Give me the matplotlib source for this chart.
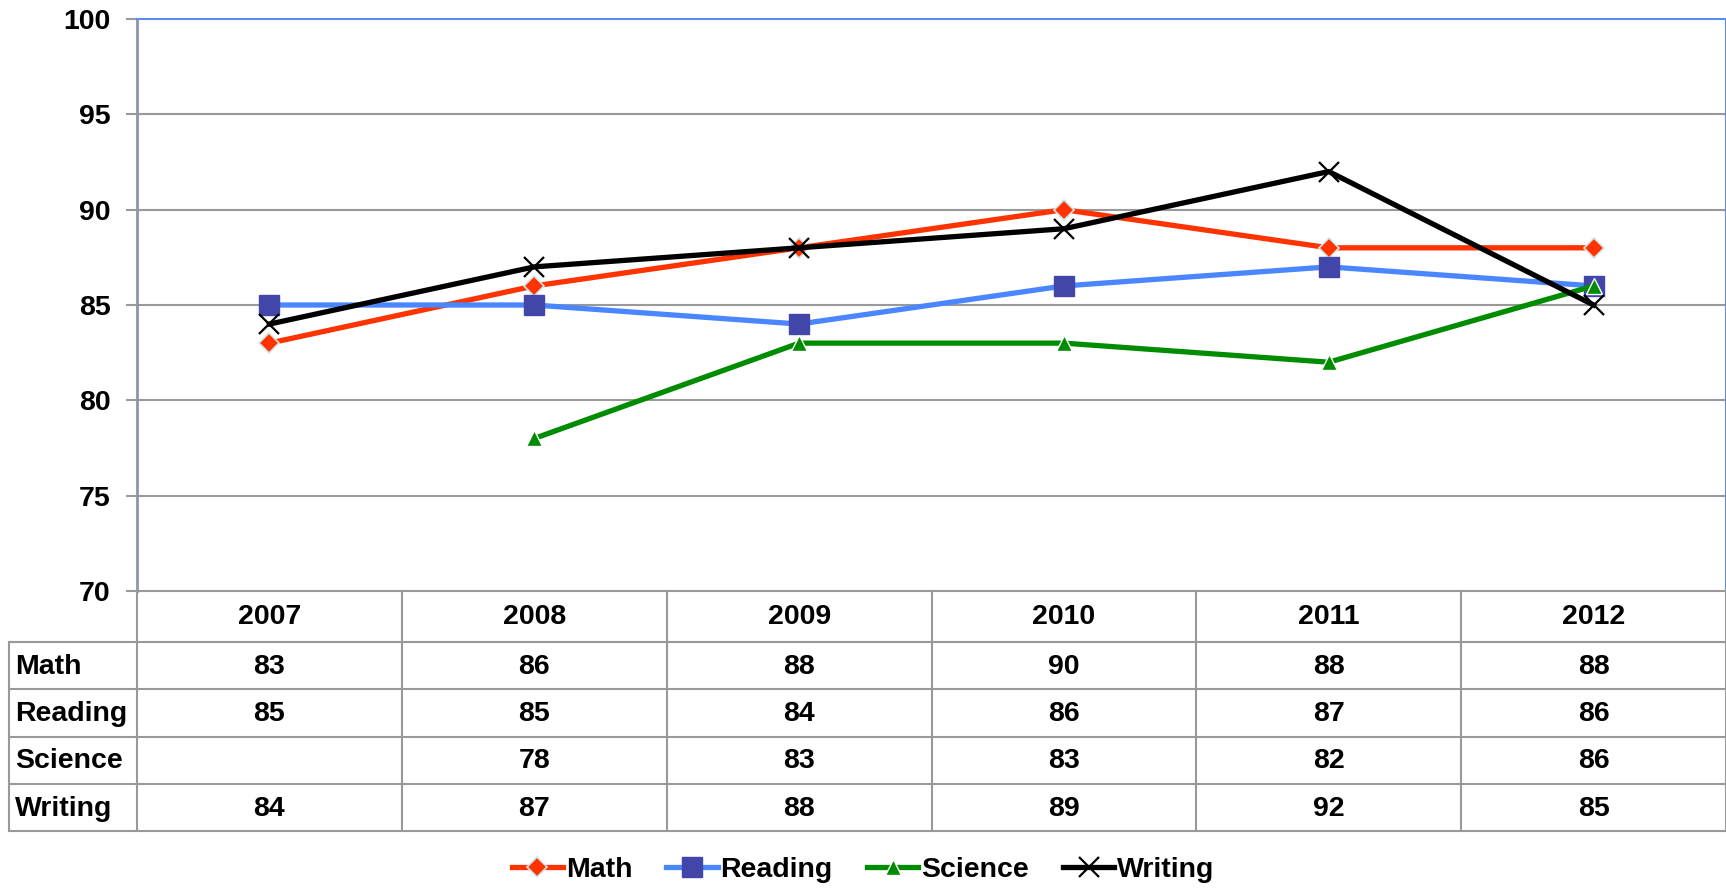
import numpy as np
import matplotlib.pyplot as plt
from matplotlib.transforms import blended_transform_factory

plt.rcParams['font.family'] = ['Liberation Sans', 'DejaVu Sans']
plt.rcParams['font.weight'] = 'bold'

# datos
years = ['2007', '2008', '2009', '2010', '2011', '2012']
math = [83, 86, 88, 90, 88, 88]
reading = [85, 85, 84, 86, 87, 86]
science = [np.nan, 78, 83, 83, 82, 86]
writing = [84, 87, 88, 89, 92, 85]
series_names = ['Math', 'Reading', 'Science', 'Writing']
y_ticks = [70, 75, 80, 85, 90, 95, 100]

W, H = 1726, 889
fig = plt.figure(figsize=(W / 100, H / 100), dpi=100)

# área del gráfico en píxeles
left, right, top, bottom = 137, 1726, 19, 591
ax = fig.add_axes([left / W, 1 - bottom / H, (right - left) / W, (bottom - top) / H])

x = np.arange(len(years))
ax.plot(x, math, color='#ff3300', lw=3.8, marker='D', ms=10,
        mfc='#ff3300', mec='#cce8ee', mew=1.2, label='Math', zorder=3)
ax.plot(x, reading, color='#4a86ff', lw=3.8, marker='s', ms=14,
        mfc='#4146a8', mec='#4146a8', label='Reading', zorder=3)
ax.plot(x, science, color='#008c00', lw=3.8, marker='^', ms=12,
        mfc='#008c00', mec='white', mew=1.0, label='Science', zorder=3)
ax.plot(x, writing, color='black', lw=3.8, marker='x', ms=15,
        mew=1.6, label='Writing', zorder=4)

ax.set_xlim(-0.5, len(years) - 0.5)
ax.set_ylim(70, 100)
ax.set_yticks(y_ticks)
ax.set_xticks([])
ax.tick_params(axis='y', length=8, width=1.5, color='#999999', pad=11, labelsize=20.5)
for t in ax.get_yticklabels():
    t.set_fontweight('bold')

for v in y_ticks[1:-1]:
    ax.axhline(v, color='#999999', lw=1.5, zorder=1)

for s in ['top', 'right']:
    ax.spines[s].set_color('#5b8def')
    ax.spines[s].set_linewidth(1.5)
ax.spines['left'].set_color('#8c96aa')
ax.spines['left'].set_linewidth(2)
ax.spines['bottom'].set_visible(False)

# tabla de datos debajo del gráfico
tr = blended_transform_factory(ax.transData, fig.transFigure)
col_w = (right - left) / len(years)
label_left = -0.5 + (9 - left) / col_w
row_edges = [591, 642, 689, 737, 784, 831]
fy = lambda p: 1 - p / H
grid_kw = dict(color='#999999', lw=1.5, transform=tr, clip_on=False)

# líneas horizontales
fig.add_artist(plt.Line2D([-0.5, len(years) - 0.5], [fy(row_edges[0])] * 2, **grid_kw))
for r in row_edges[1:]:
    fig.add_artist(plt.Line2D([label_left, len(years) - 0.5], [fy(r)] * 2, **grid_kw))
# líneas verticales
for i in range(len(years) + 1):
    fig.add_artist(plt.Line2D([i - 0.5] * 2, [fy(row_edges[0]), fy(row_edges[-1])], **grid_kw))
fig.add_artist(plt.Line2D([label_left] * 2, [fy(row_edges[1]), fy(row_edges[-1])], **grid_kw))

for i, yr in enumerate(years):
    fig.text(i, fy((row_edges[0] + row_edges[1]) / 2 + 1), yr, transform=tr,
             ha='center', va='center', fontsize=20.5, fontweight='bold')

rows = [math, reading, science, writing]
for j, (name, vals) in enumerate(zip(series_names, rows)):
    yc = fy((row_edges[j + 1] + row_edges[j + 2]) / 2 + 1)
    fig.text(label_left + 6 / col_w, yc, name, transform=tr,
             ha='left', va='center', fontsize=20.5, fontweight='bold')
    for i, v in enumerate(vals):
        if not np.isnan(v):
            fig.text(i, yc, f'{v:.0f}', transform=tr,
                     ha='center', va='center', fontsize=20.5, fontweight='bold')

fig.legend(loc='center', bbox_to_anchor=(0.5, fy(870)), ncol=4, frameon=False,
           handlelength=1.8, handletextpad=0.1, columnspacing=1.2,
           prop={'weight': 'bold', 'size': 20.5})

fig.savefig('out.png', dpi=100)
